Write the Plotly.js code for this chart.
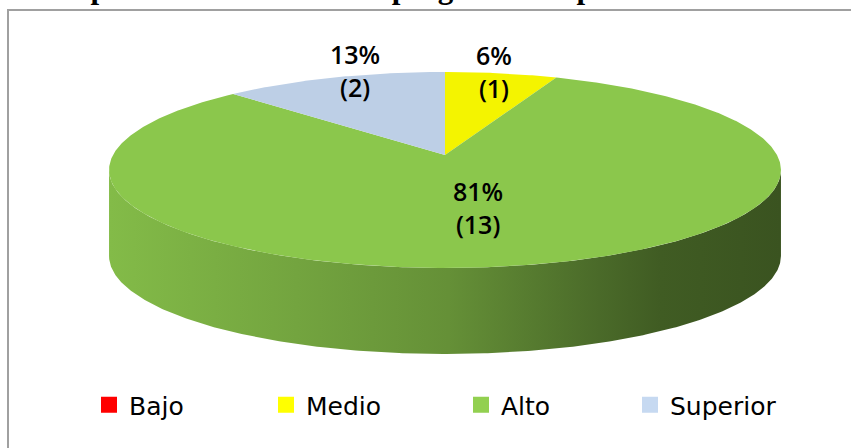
<!DOCTYPE html>
<html>
<head>
<meta charset="utf-8">
<script src="https://cdn.plot.ly/plotly-3.0.1.min.js"></script>
<style>html,body{margin:0;padding:0;background:#fff;}#chart{width:851px;height:448px;}</style>
</head>
<body>
<div id="chart"></div>
<script>
// ---- data ----
const categories = ['Bajo', 'Medio', 'Alto', 'Superior'];
const values = [0, 1, 13, 2];
const baseColors = ['#FF0000', '#FFFF00', '#92D050', '#C6D9F1'];
const titleText = 'Cumplimiento de las metas programadas para el año 2015';

// ---- geometry / style (pixel-like data space) ----
const G = {cx: 445, cy: 155, a: 332, persp: 0.153, tilt: -72, depth: 86};
const labelRadius = [0.5, 1.0, 0.5, 0.8];
const labelShift = [[0, 0], [-7, -2], [-2, 2], [1, -21]];
const legendCenters = [110, 287, 482, 651];

function hexToRgb(h) { h = h.replace('#', ''); return [0, 2, 4].map(i => parseInt(h.substr(i, 2), 16)); }
function shade(h, f) { const c = hexToRgb(h).map(v => Math.round(Math.min(255, v * f))); return 'rgb(' + c.join(',') + ')'; }

function proj(tDeg, r) {
  const t = tDeg * Math.PI / 180;
  const c = r * Math.cos(t), s = r * Math.sin(t);
  const den = 1 + G.persp * s;
  return [G.cx + G.a * c / den, (G.cy + G.tilt * s) / den];
}

const total = values.reduce((a, b) => a + b, 0);
const wallTraces = [];
const topTraces = [];
const annotations = [];
const e = Math.asin(G.persp) * 180 / Math.PI;
const fLo = 180 + e, fHi = 360 - e;
const wallFactors = [[0, 0.90], [0.28, 0.79], [0.505, 0.69], [0.73, 0.51], [0.82, 0.44], [1, 0.40]];

let start = 90;
values.forEach((v, i) => {
  if (v <= 0) return;
  const sweep = 360 * v / total;
  const end = start - sweep;
  // top face
  const n = Math.max(8, Math.ceil(sweep * 2));
  const xs = [G.cx], ys = [G.cy];
  for (let k = 0; k <= n; k++) {
    const p = proj(start - sweep * k / n, 1);
    xs.push(p[0]); ys.push(p[1]);
  }
  xs.push(G.cx); ys.push(G.cy);
  topTraces.push({
    type: 'scatter', mode: 'lines', x: xs, y: ys, fill: 'toself',
    fillcolor: shade(baseColors[i], 0.955), line: {width: 0, color: 'rgba(0,0,0,0)'},
    hoverinfo: 'skip', showlegend: false
  });
  // side wall (front visible part)
  [-360, 0, 360].forEach(sh => {
    const lo = Math.max(end + sh, fLo), hi = Math.min(start + sh, fHi);
    if (hi > lo) {
      const m = Math.ceil((hi - lo) * 2);
      const wx = [], wy = [];
      for (let k = 0; k <= m; k++) { const p = proj(lo + (hi - lo) * k / m, 1); wx.push(p[0]); wy.push(p[1]); }
      for (let k = m; k >= 0; k--) { const p = proj(lo + (hi - lo) * k / m, 1); wx.push(p[0]); wy.push(p[1] + G.depth); }
      wx.push(wx[0]); wy.push(wy[0]);
      wallTraces.push({
        type: 'scatter', mode: 'lines', x: wx, y: wy, fill: 'toself',
        fillcolor: shade(baseColors[i], 0.7),
        fillgradient: {type: 'horizontal', colorscale: wallFactors.map(f => [f[0], shade(baseColors[i], f[1])])},
        line: {width: 0, color: 'rgba(0,0,0,0)'}, hoverinfo: 'skip', showlegend: false
      });
    }
  });
  // label
  const mid = start - sweep / 2;
  const lp = proj(mid, labelRadius[i]);
  const pct = Math.round(v / total * 100);
  annotations.push({
    x: lp[0], y: lp[1], xref: 'x', yref: 'y', showarrow: false,
    xshift: labelShift[i][0], yshift: -labelShift[i][1],
    text: pct + '%<br>(' + v + ')', align: 'center', xanchor: 'center', yanchor: 'middle',
    font: {family: 'Open Sans, sans-serif', size: 25, weight: 600, color: '#000'}
  });
  start = end;
});

// title (cut off at top, as in the reference)
annotations.push({
  x: 23, y: 7, xref: 'x', yref: 'y', xanchor: 'left', yanchor: 'bottom', showarrow: false,
  text: '<b>' + titleText + '</b>',
  font: {family: 'Liberation Serif, Times New Roman, serif', size: 31, color: '#000'}
});

// legend traces
const legendTraces = categories.map((c, i) => ({
  type: 'scatter', mode: 'markers', x: [null], y: [null], name: c,
  marker: {symbol: 'square', size: 14, color: baseColors[i], line: {width: 2, color: baseColors[i]}},
  showlegend: true, legend: i === 0 ? 'legend' : 'legend' + (i + 1), hoverinfo: 'skip'
}));

const layout = {
  width: 851, height: 448,
  margin: {l: 0, r: 0, t: 0, b: 0},
  paper_bgcolor: '#fff', plot_bgcolor: '#fff',
  xaxis: {range: [0, 851], visible: false, fixedrange: true},
  yaxis: {range: [448, 0], visible: false, fixedrange: true},
  shapes: [{
    type: 'path', xref: 'x', yref: 'y',
    path: 'M 8 470 L 8 10 L 870 10',
    line: {color: '#A0A0A0', width: 2}
  }],
  annotations: annotations
};
categories.forEach((c, i) => {
  const key = i === 0 ? 'legend' : 'legend' + (i + 1);
  layout[key] = {
    x: (legendCenters[i] - 21) / 851, xanchor: 'left',
    y: 1 - 405 / 448, yanchor: 'middle',
    orientation: 'h', bgcolor: 'rgba(0,0,0,0)', borderwidth: 0, itemwidth: 30,
    font: {family: 'DejaVu Sans, sans-serif', size: 25, color: '#000'}
  };
});

Plotly.newPlot('chart', wallTraces.concat(topTraces).concat(legendTraces), layout, {displayModeBar: false, staticPlot: true});
</script>
</body>
</html>
